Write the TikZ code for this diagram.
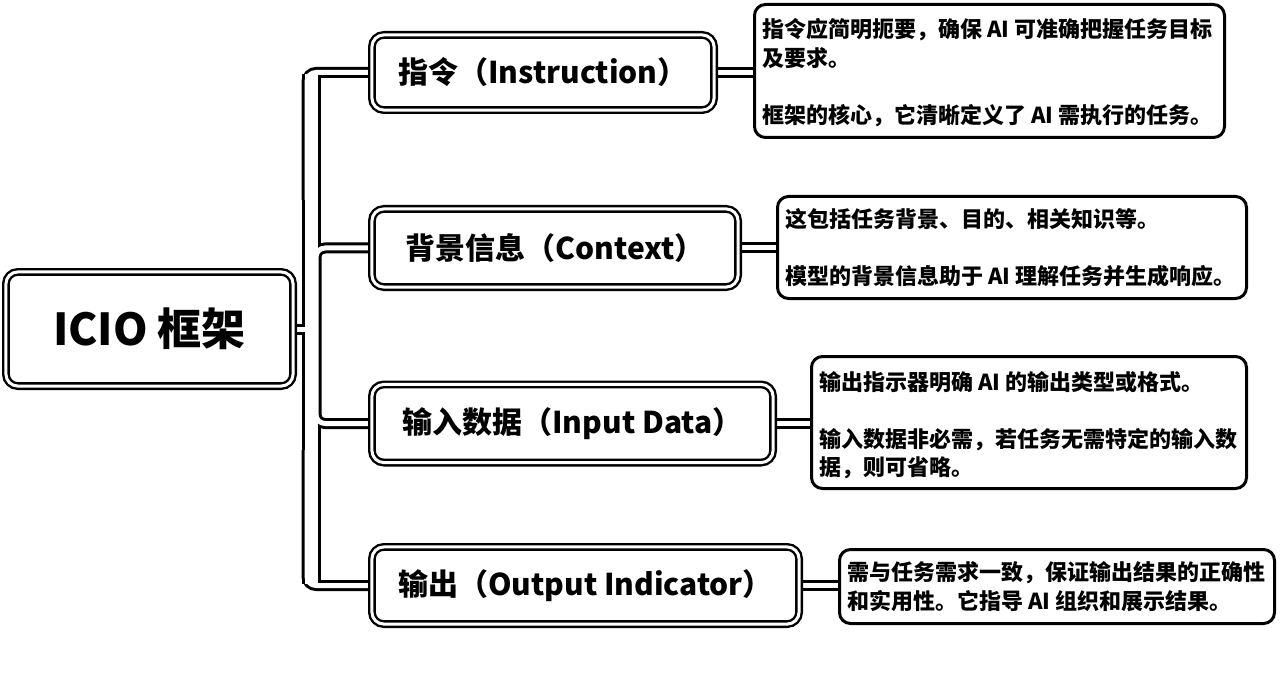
\documentclass[tikz,border=0pt]{standalone}
\usepackage{fontspec}
\setmainfont{Noto Sans CJK SC}
\usetikzlibrary{calc}
\pgfdeclarelayer{bgl}
\pgfdeclarelayer{connA}
\pgfdeclarelayer{connB}
\pgfsetlayers{bgl,connA,connB,main}
\newcommand\myconn[2][]{%
  \begin{pgfonlayer}{connA}\draw[connblack,#1] #2;\end{pgfonlayer}%
  \begin{pgfonlayer}{connB}\draw[connwhite,#1] #2;\end{pgfonlayer}}
\tikzset{
  mainbox/.style={draw=black, fill=white, double=white, line width=2.4pt,
    double distance=3pt, rounded corners=12pt, inner sep=0pt,
    font=\fontsize{30}{36}\selectfont\bfseries},
  rootbox/.style={mainbox, font=\fontsize{44}{50}\selectfont\bfseries},
  leafbox/.style={draw=black, fill=white, line width=3pt, rounded corners=11pt, inner sep=0pt},
  leaftext/.style={align=left, inner sep=0pt, font=\fontsize{22}{28.5}\selectfont\bfseries},
  connblack/.style={draw=black, line width=11pt, rounded corners=9pt},
  connwhite/.style={draw=white, line width=5pt, rounded corners=9pt},
}
\begin{document}
\begin{tikzpicture}[x=1pt,y=-1pt]
\begin{pgfonlayer}{bgl}
  \fill[white] (0,0) rectangle (1280,687);
\end{pgfonlayer}
\useasboundingbox (0,0) rectangle (1280,687);

% root
\node[rootbox, minimum width=287.2pt, minimum height=114.2pt] (c) at (149.5,329) {ICIO 框架};

% main topics
\node[mainbox, minimum width=342.2pt, minimum height=75.2pt] (n1) at (543,72.5) {指令（Instruction）};
\node[mainbox, minimum width=366.2pt, minimum height=78.2pt] (n2) at (555,248) {背景信息（Context）};
\node[mainbox, minimum width=401.2pt, minimum height=78.2pt] (n3) at (572.5,423.5) {输入数据（Input Data）};
\node[mainbox, minimum width=427.2pt, minimum height=77.2pt] (n4) at (585.5,585.5) {输出（Output Indicator）};

% leaf boxes
\node[leafbox, minimum width=470pt, minimum height=133pt] (l1) at (989.5,71) {};
\node[leafbox, minimum width=469pt, minimum height=102pt] (l2) at (1012,247.5) {};
\node[leafbox, minimum width=435pt, minimum height=132pt] (l3) at (1029,422.5) {};
\node[leafbox, minimum width=435pt, minimum height=74pt] (l4) at (1057,586.5) {};

% leaf texts
\node[leaftext, anchor=west] (t1) at ($(l1.west)+(9,1.5)$) {指令应简明扼要，确保 AI 可准确把握任务目标\\及要求。\\[28.5pt]框架的核心，它清晰定义了 AI 需执行的任务。};
\node[leaftext, anchor=west] (t2) at ($(l2.west)+(9,0.5)$) {这包括任务背景、目的、相关知识等。\\[28.5pt]模型的背景信息助于 AI 理解任务并生成响应。};
\node[leaftext, anchor=west] (t3) at ($(l3.west)+(9,2.5)$) {输出指示器明确 AI 的输出类型或格式。\\[28.5pt]输入数据非必需，若任务无需特定的输入数\\据，则可省略。};
\node[leaftext, anchor=west] (t4) at ($(l4.west)+(9,0)$) {需与任务需求一致，保证输出结果的正确性\\和实用性。它指导 AI 组织和展示结果。};

% junction coordinates on the trunk
\coordinate (trunktop) at (311.5,74.5);
\coordinate (trunkbot) at (311.5,583.5);
\coordinate (jc) at (311.5,329);
\coordinate (jo1) at (307,200);
\coordinate (jo4) at (307,450);
\coordinate (ji2) at (316,329);
\coordinate (ji3) at (316,329);

% trunk (wide band)
\begin{pgfonlayer}{connA}\draw[black, line width=19pt] (trunktop) -- (trunkbot);\end{pgfonlayer}
\begin{pgfonlayer}{connB}\draw[white, line width=13pt] (trunktop) -- (trunkbot);\end{pgfonlayer}

% stub from root into trunk
\myconn{(c.east) -- (jc)}
% branches from trunk to topics
\myconn{(jo1) |- (n1.west)}
\myconn{(jo4) |- (n4.west)}
\myconn{(ji2) |- (n2.west)}
\myconn{(ji3) |- (n3.west)}

% topic to leaf
\myconn{(n1.east) -- (n1.east -| l1.west)}
\myconn{(n2.east) -- (n2.east -| l2.west)}
\myconn{(n3.east) -- (n3.east -| l3.west)}
\myconn{(n4.east) -- (n4.east -| l4.west)}
\end{tikzpicture}
\end{document}
